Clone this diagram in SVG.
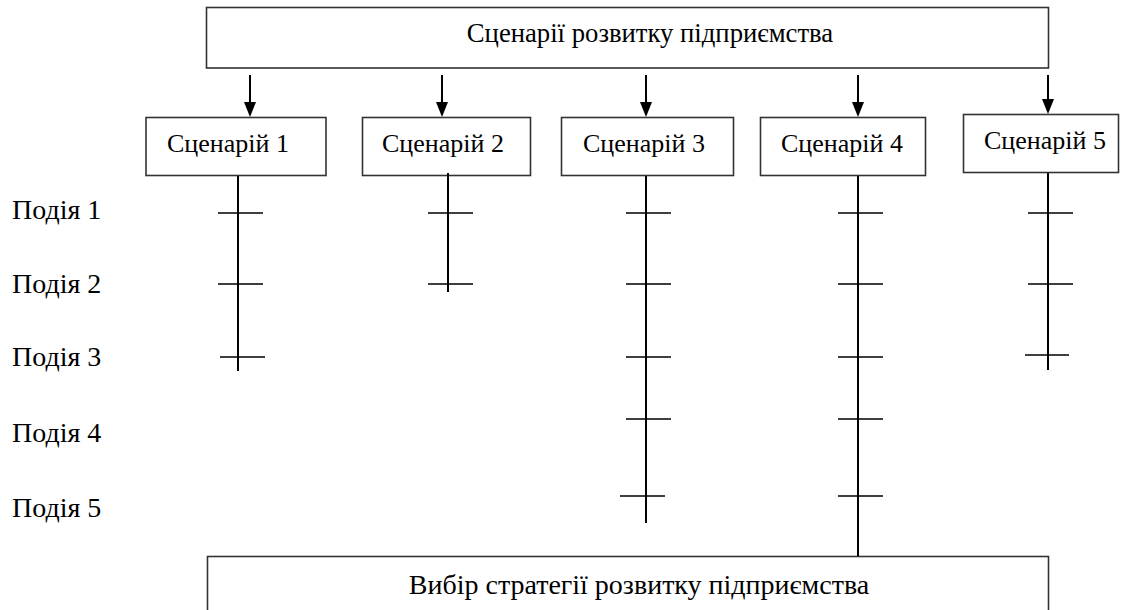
<svg xmlns="http://www.w3.org/2000/svg" width="1130" height="610" viewBox="0 0 1130 610">
<defs>
<style>
.box{fill:#fff;stroke:#333;stroke-width:1.6}
.t{font-family:"Liberation Serif","Times New Roman",serif;font-size:26px;fill:#000}
.ev{font-size:28px}
.ln{stroke:#000;stroke-width:2;fill:none}
.tk{stroke:#000;stroke-width:1.6;fill:none}
</style>
</defs>
<g id="top">
<rect class="box" x="206.5" y="7.5" width="842" height="60.5"/>
<text class="t" x="650" y="42" text-anchor="middle" style="font-size:26.7px">Сценарії розвитку підприємства</text>
</g>
<g id="bottom">
<rect class="box" x="207.5" y="556.5" width="841" height="70"/>
<text class="t" x="639" y="594" text-anchor="middle" style="font-size:28px">Вибір стратегії розвитку підприємства</text>
</g>
<g id="s1"><rect class="box" x="146" y="117.5" width="180" height="58"/><text class="t" x="167" y="152">Сценарій 1</text></g>
<g id="s2"><rect class="box" x="362.5" y="117.5" width="168" height="58"/><text class="t" x="382" y="152">Сценарій 2</text></g>
<g id="s3"><rect class="box" x="561.5" y="117.5" width="172" height="58"/><text class="t" x="583" y="152">Сценарій 3</text></g>
<g id="s4"><rect class="box" x="760.5" y="117.5" width="165" height="58"/><text class="t" x="781" y="152">Сценарій 4</text></g>
<g id="s5"><rect class="box" x="963.5" y="114.5" width="155" height="58"/><text class="t" x="984" y="149">Сценарій 5</text></g>
<g id="events">
<text class="t ev" x="12" y="219">Подія 1</text>
<text class="t ev" x="12" y="293">Подія 2</text>
<text class="t ev" x="12" y="366">Подія 3</text>
<text class="t ev" x="12" y="442">Подія 4</text>
<text class="t ev" x="12" y="517">Подія 5</text>
</g>
<g id="connectors">
<path class="ln" d="M250,75 V104"/><path d="M244,102 L256,102 L250,117 Z" fill="#000"/>
<path class="ln" d="M442,75 V104"/><path d="M436,102 L448,102 L442,117 Z" fill="#000"/>
<path class="ln" d="M646,75 V104"/><path d="M640,102 L652,102 L646,117 Z" fill="#000"/>
<path class="ln" d="M858,75 V104"/><path d="M852,102 L864,102 L858,117 Z" fill="#000"/>
<path class="ln" d="M1048,75 V101"/><path d="M1042,99 L1054,99 L1048,114 Z" fill="#000"/>
<path class="ln" d="M238,176 V371"/>
<path class="tk" d="M218,213 H263 M218,284 H263 M220,357 H265"/>
<path class="ln" d="M448,173 V292"/>
<path class="tk" d="M428,213 H473 M428,284 H473"/>
<path class="ln" d="M646,176 V523"/>
<path class="tk" d="M626,213 H671 M626,284 H671 M626,357 H671 M626,419 H671 M620,496 H665"/>
<path class="ln" d="M858,176 V556"/>
<path class="tk" d="M838,213 H883 M838,284 H883 M838,357 H883 M838,419 H883 M838,496 H883"/>
<path class="ln" d="M1048,173 V370"/>
<path class="tk" d="M1028,213 H1073 M1028,284 H1073 M1025,355 H1069"/>
</g>
</svg>
